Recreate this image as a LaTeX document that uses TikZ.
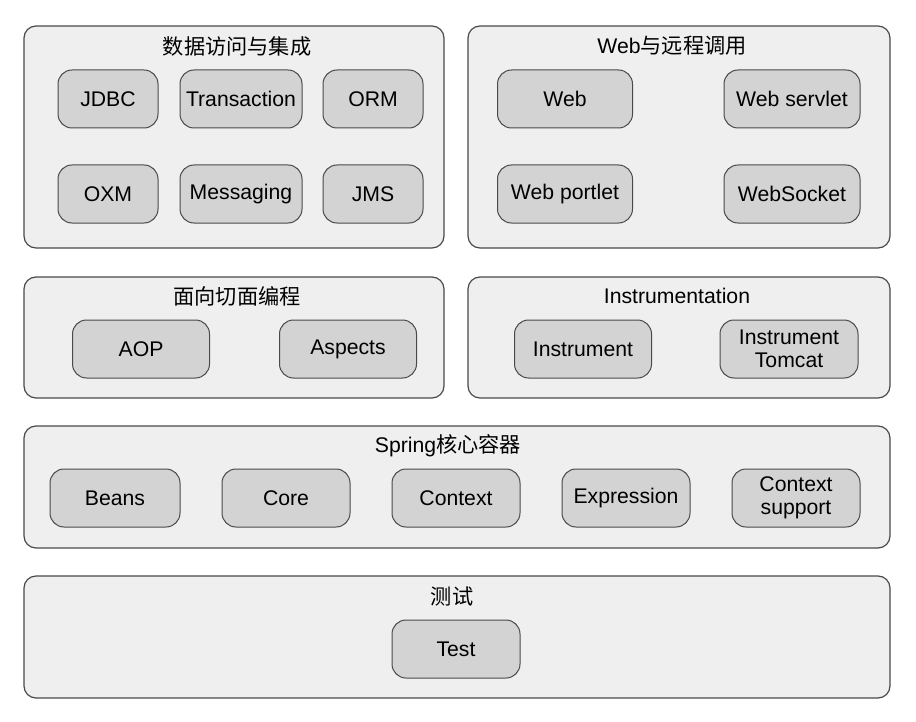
\documentclass[tikz,border=0pt]{standalone}
\usepackage{fontspec}
\setmainfont{Liberation Sans}
\newfontfamily\cjk{Noto Sans CJK SC}
\usepackage{tikz}
\usetikzlibrary{positioning}
\definecolor{panelgray}{HTML}{EFEFEF}
\definecolor{modgray}{HTML}{D3D3D3}
\definecolor{edgegray}{HTML}{4A4A4A}

\begin{document}
\begin{tikzpicture}[
  x=0.5pt, y=-0.5pt,
  panel/.style={draw=edgegray, fill=panelgray, rounded corners=6pt,
    line width=0.6pt, inner sep=0pt},
  module/.style={draw=edgegray, fill=modgray, rounded corners=7pt,
    line width=0.5pt, minimum height=29pt, align=center, inner sep=1pt,
    font=\fontsize{10.6}{11.5}\selectfont},
  title/.style={inner sep=0pt, font=\fontsize{10.6}{12}\selectfont}
]
\useasboundingbox (0,0) rectangle (916,722);

% layer panels
\node[panel, minimum width=210pt, minimum height=111pt] (data) at (234,137) {};
\node[panel, minimum width=211pt, minimum height=111pt] (web)  at (679,137) {};
\node[panel, minimum width=210pt, minimum height=60.5pt] (aop) at (234,337.5) {};
\node[panel, minimum width=211pt, minimum height=60.5pt] (ins) at (679,337.5) {};
\node[panel, minimum width=433pt, minimum height=61pt] (core) at (457,487) {};
\node[panel, minimum width=433pt, minimum height=61pt] (test) at (457,637) {};

% panel titles
\node[title] (dataT) at (237,46)  {\cjk 数据访问与集成};
\node[title] (webT)  at (672,46)  {Web{\cjk 与远程调用}};
\node[title] (aopT)  at (237,296) {\cjk 面向切面编程};
\node[title] (insT)  at (677,296) {Instrumentation};
\node[title] (coreT) at (448,446) {Spring{\cjk 核心容器}};
\node[title] (testT) at (452,596) {\cjk 测试};

% data access / integration
\node[module, minimum width=50pt]   (jdbc) at (108,99)  {JDBC};
\node[module, minimum width=61pt]   (tx)   at (241,99)  {Transaction};
\node[module, minimum width=50pt]   (orm)  at (373,99)  {ORM};
\node[module, minimum width=50pt]   (oxm)  at (108,194) {OXM};
\node[module, minimum width=61pt]   (msg)  at (241,194) {Messaging};
\node[module, minimum width=50pt]   (jms)  at (373,194) {JMS};

% web
\node[module, minimum width=67.5pt] (wb)   at (565,99)  {Web};
\node[module, minimum width=68pt]   (wsv)  at (792,99)  {Web servlet};
\node[module, minimum width=67.5pt] (wpt)  at (565,194) {Web portlet};
\node[module, minimum width=68pt]   (wsk)  at (792,194) {WebSocket};

% aop + instrumentation
\node[module, minimum width=68.5pt] (ao)   at (141,349) {AOP};
\node[module, minimum width=68.5pt] (asp)  at (348,349) {Aspects};
\node[module, minimum width=68.5pt] (inst) at (583,349) {Instrument};
\node[module, minimum width=69pt]   (itc)  at (789,349) {Instrument\\Tomcat};

% core container
\node[module, minimum width=65pt]   (beans) at (115,498) {Beans};
\node[module, minimum width=64pt]   (cr)    at (286,498) {Core};
\node[module, minimum width=64pt]   (ctx)   at (456,498) {Context};
\node[module, minimum width=64pt]   (expr)  at (626,498) {Expression};
\node[module, minimum width=64pt]   (ctxs)  at (796,498) {Context\\support};

% test
\node[module, minimum width=64pt]   (tst)   at (456,649) {Test};
\end{tikzpicture}
\end{document}
